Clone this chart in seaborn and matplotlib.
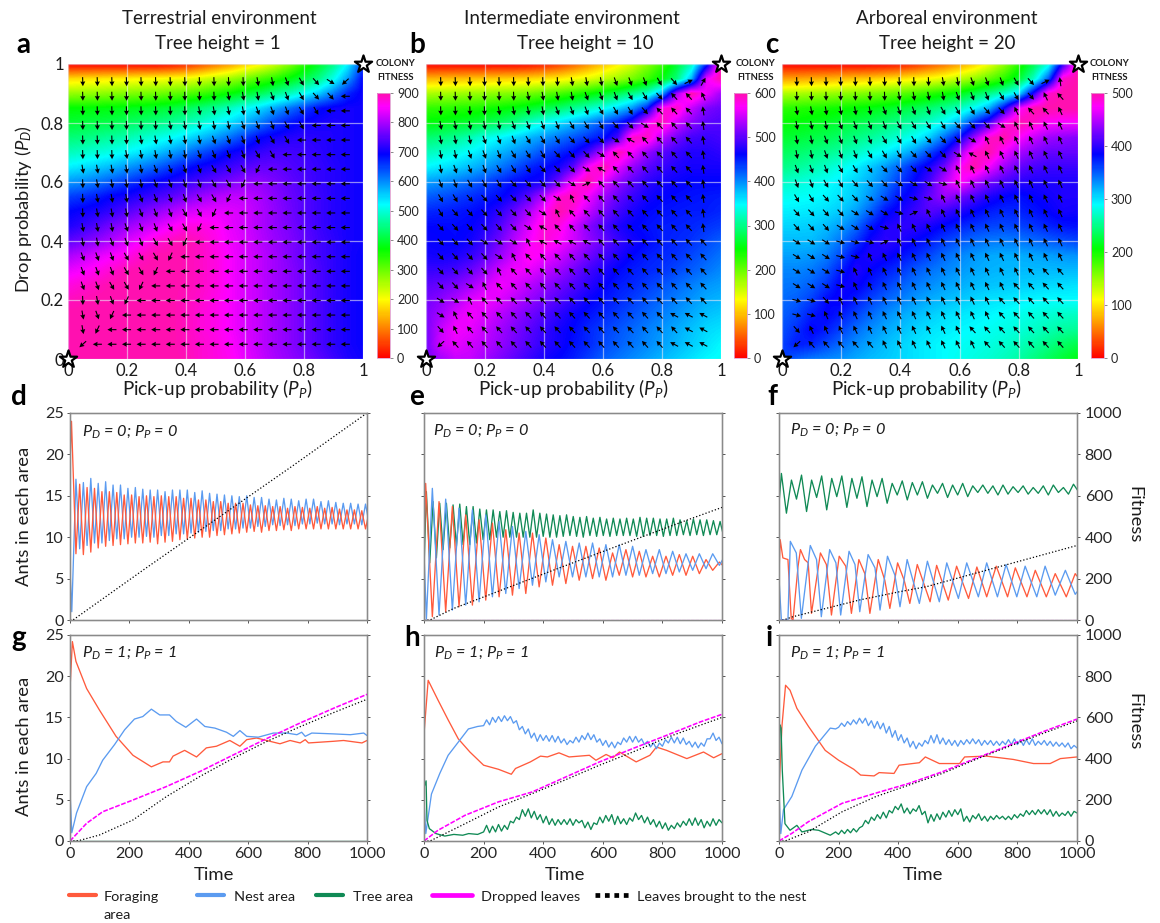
import matplotlib
matplotlib.use('Agg')
import numpy as np
import pandas as pd
import matplotlib.pyplot as plt
import seaborn as sns
from matplotlib.colors import LinearSegmentedColormap
from matplotlib.lines import Line2D

W, H = 1160, 923
sns.set_theme(style="white")
plt.rcParams['font.family'] = ['Lato', 'DejaVu Sans']
plt.rcParams['mathtext.fontset'] = 'custom'
plt.rcParams['mathtext.rm'] = 'Lato'
plt.rcParams['mathtext.it'] = 'Lato:italic'
plt.rcParams['mathtext.bf'] = 'Lato:bold'
plt.rcParams['text.color'] = '#1c1c1c'

# --- colony fitness, rows from P_D = 1 down to 0, columns P_P = 0..1 ---
fit_a = [
    [0,0,0,0,0,0,0,10,30,60,90,120,160,190,230,280,340,390,450,530,650],
    [170,175,180,185,190,195,200,205,210,225,245,265,290,320,345,375,410,450,510,590,690],
    [270,272,275,280,285,290,295,305,315,330,350,370,395,420,450,480,515,555,610,670,700],
    [370,372,375,378,382,388,395,405,420,440,460,485,515,545,580,615,650,685,700,705,700],
    [400,405,410,415,425,435,445,460,475,495,520,545,575,610,650,680,700,705,710,705,700],
    [440,445,455,465,475,490,505,520,540,565,590,620,655,690,705,715,720,715,710,705,700],
    [480,490,500,510,525,540,560,585,610,640,665,695,710,725,735,735,730,720,710,705,700],
    [530,540,555,570,590,610,630,655,680,700,715,730,745,755,755,745,735,725,715,705,700],
    [590,600,615,635,655,675,695,710,725,740,755,770,785,785,770,755,740,725,715,705,700],
    [650,660,675,695,705,720,735,750,770,790,805,815,815,800,780,760,745,730,715,705,700],
    [690,700,710,725,745,765,785,805,825,835,840,835,825,805,785,765,745,730,715,705,700],
    [710,725,745,770,790,810,830,850,870,870,860,840,825,805,785,770,750,730,715,705,700],
    [750,765,785,805,830,850,875,890,900,885,865,845,830,810,790,775,755,735,720,705,700],
    [800,815,835,850,865,885,900,900,895,885,870,850,830,815,795,775,755,735,720,705,695],
    [840,850,865,880,895,900,900,900,895,885,870,850,830,815,795,780,760,740,720,705,695],
    [870,880,890,900,900,900,900,900,895,885,870,850,830,815,795,780,760,740,720,705,695],
    [890,895,900,900,900,900,900,900,890,880,865,850,830,815,795,780,760,740,720,705,695],
    [900,900,900,900,900,900,900,900,890,875,865,850,830,815,795,780,760,740,720,705,695],
    [900,900,900,900,900,900,900,900,890,875,865,850,830,815,795,780,760,740,720,705,695],
    [900,900,900,900,900,900,900,900,890,880,870,855,835,815,795,780,760,740,720,705,695],
    [900,900,900,900,900,900,900,900,895,880,870,860,840,820,800,785,770,750,730,710,700],
]
fit_b = [
    [0,0,0,0,0,0,0,5,15,30,50,75,100,125,150,185,220,265,320,440,600],
    [95,97,100,102,105,108,110,113,118,125,135,145,160,175,195,220,250,295,380,560,600],
    [170,172,175,178,182,186,190,196,205,215,228,242,258,278,300,325,385,530,600,565,530],
    [225,227,230,233,238,244,252,262,274,288,305,322,340,365,395,450,580,590,545,515,505],
    [250,254,260,266,274,286,300,325,345,362,380,400,425,450,490,570,595,550,520,500,495],
    [290,296,305,318,338,350,365,380,395,410,425,440,455,490,590,590,540,510,490,485,490],
    [320,328,338,350,365,380,395,410,430,445,460,490,540,600,565,525,500,485,475,475,480],
    [350,358,367,378,392,408,425,445,458,470,500,570,600,560,525,500,485,475,470,470,470],
    [390,397,406,417,430,444,458,465,470,510,570,600,560,525,500,480,470,465,460,460,460],
    [420,426,433,441,450,458,475,500,540,585,595,565,530,505,485,470,462,458,455,452,450],
    [445,448,452,456,464,480,505,535,570,600,580,545,515,490,472,460,455,452,450,450,445],
    [460,460,458,462,474,495,525,555,585,580,550,520,495,475,462,455,450,448,445,440,435],
    [465,462,460,468,485,510,540,565,585,570,550,525,505,485,470,460,450,445,440,430,420],
    [470,468,472,482,500,525,550,575,565,550,530,510,490,475,460,450,445,440,430,420,410],
    [485,485,490,505,525,550,565,560,545,530,510,490,475,460,450,445,440,430,420,410,400],
    [500,505,515,530,550,565,555,540,525,510,495,480,465,450,445,435,425,415,405,395,390],
    [510,520,535,555,565,555,540,525,510,495,480,465,455,445,435,425,415,405,395,385,380],
    [515,530,555,565,555,540,525,510,495,480,465,455,445,435,425,415,405,395,385,375,370],
    [510,545,565,560,545,530,515,500,485,470,460,445,435,425,415,405,395,385,375,365,360],
    [510,550,560,550,540,525,510,495,480,470,455,445,430,420,410,400,390,380,370,360,350],
    [510,530,545,545,530,515,500,485,470,460,450,435,420,410,400,390,380,370,360,350,345],
]
fit_c = [
    [0,0,0,0,0,0,0,3,10,20,35,50,70,90,115,150,190,230,280,400,500],
    [70,72,75,78,82,86,90,95,100,106,113,122,135,150,170,190,220,270,350,490,500],
    [140,142,145,148,152,156,160,165,172,180,190,200,212,230,250,270,300,395,490,500,500],
    [190,192,195,198,202,206,210,216,224,232,242,254,270,290,320,385,470,500,500,500,500],
    [205,208,212,216,222,228,235,243,252,262,274,292,320,370,410,480,500,490,475,470,470],
    [220,224,228,233,240,248,257,267,278,290,310,345,385,440,490,500,475,455,440,435,430],
    [235,240,246,252,260,270,282,294,310,330,360,390,440,490,500,470,445,430,420,420,420],
    [250,256,263,272,283,295,310,328,350,375,395,425,475,500,470,440,420,410,405,405,405],
    [270,276,282,288,296,306,320,340,365,385,410,450,480,450,425,410,400,395,395,395,395],
    [285,287,289,293,300,310,330,355,380,395,420,440,425,410,395,385,380,385,390,395,395],
    [295,296,298,302,310,325,350,380,392,405,415,405,395,385,375,370,372,378,385,392,390],
    [305,306,308,314,326,345,375,395,400,400,392,382,372,365,360,358,360,365,372,378,380],
    [315,315,315,325,342,365,390,400,395,385,375,362,352,345,340,338,340,345,350,355,360],
    [325,325,328,338,358,385,395,390,380,370,358,345,335,328,322,320,320,322,325,328,330],
    [335,335,340,352,375,395,385,375,365,352,342,335,328,322,318,316,315,315,315,315,315],
    [340,342,350,365,388,388,375,362,350,340,332,325,320,315,312,310,308,306,304,302,300],
    [345,350,362,382,388,375,360,348,338,328,320,315,310,305,300,298,295,292,290,290,290],
    [350,358,375,385,375,360,345,332,322,315,308,302,298,295,292,288,284,280,276,272,270],
    [355,368,385,375,360,345,332,322,314,306,300,296,292,290,286,282,278,272,265,258,255],
    [360,375,372,358,345,332,322,314,306,300,295,290,288,284,280,275,268,260,250,238,230],
    [365,350,340,335,330,322,315,310,305,300,295,290,285,280,275,268,260,248,235,222,210],
]
cbar_ticks_a = [0, 100, 200, 300, 400, 500, 600, 700, 800, 900]
cbar_ticks_b = [0, 100, 200, 300, 400, 500, 600]
cbar_ticks_c = [0, 100, 200, 300, 400, 500]

# --- arrow directions read row by row, P_D = .95 (top) to .05 ---
arrow_codes = dict(d=-88, e=-80, f=-70, g=-60, h=-48, i=-32, j=-15, c=25, b=60,
                   s=98, r=115, q=132, t=152, l=180, o=222, n=245)
arrows_a = ["ddddddddddddeefghio", "ddddddddddeeeffghhl", "ddddddddeeeefffggll",
            "ddddddeeeeefffgglll", "ddddeeeeeffffggllll", "dddeeeeeffffgglllll",
            "eeeeeffffgggnllllll", "deeeeffffggnlllllll", "deeeffffggnllllllll",
            "deeefffggnlllllllll", "eeefffggnllllllllll", "eefffggnlllllllllll",
            "fffgggnllllllllllll", "fffggnlllllllllllll", "ffggnllllllllllllll",
            "defnlllllllllllllll", "efnllllllllllllllll", "enlllllllllllllllll",
            "ollllllllllllllllll"]
arrows_b = ["dddddddddeeefffghcb", "ddddddeeeefffgghqqr", "ddddeeeefffggghqqqs",
            "eeeeeffffggghhiqqqs", "eeefffggghhhitqqqqs", "eefffggghhhiqqqqqqs",
            "efffggghhhitqqqqqqs", "ffggghhhhicqqqqqqqs", "gghhhhhhirqqqqqqqqs",
            "ghhhhhhirqqqqqqqqqs", "hhhhhhitqqqqqqqqqqs", "hhhiiirttttqqqqqqqq",
            "hhhhirqqqqqqqqqqqqq", "hhhhrqqqqqqqqqqqqqq", "hhirqqqqqqqqqqqqqqq",
            "iirqqqqqqqqqqqqqqqq", "irqqqqqqqqqqqqqqttt", "hrqqqqqqqqqqqqqqqtt",
            "oqqqqqqqqqqqqqqqttt"]
arrows_c = ["ddddddddddeefffghcs", "dddddddeeeefffgghrq", "eeeeeeffffggghhrqqr",
            "eeeffffgggghhhirrrr", "eeffffggghhhirrrrrr", "eefffggghhhitrrrrrr",
            "fffggghhhiirrrrrrrr", "ffgghhhiiijrrrrrrrr", "gghhhiiijjrrrrrrrrr",
            "hhhhiiijcrrrrrrrrrr", "hhhiiijrrrrrrrrrrrr", "iiijjjcrrrrrrrrrrrr",
            "iiijjrrrrrrrrrrrrrr", "iiijrrrrrrrrrrrrqqq", "iiijrrrrrrrrrrrqqqq",
            "jjhrrrrrrrrrrrqqqqq", "jjrrrrrrrrrrrrqqqqq", "hrrrrrrrrrrrqqqqqqq",
            "oqqqqqrrrrrrrqqqqqq"]

# --- panel d ---
d_blue_pk = [17,16.6,17.1,16.5,16.7,16.3,16.3,15.9,16,15.8,15.7,15.7,15.5,15.7,15.7,15.7,15.4,15.6,15.3,15.2,
             15.1,15,14.9,15,14.8,14.8,14.6,14.5,14.7,14.6,14.4,14.6,14.6,14.3,14.4,14.2,14.1,14.1,14,14]
d_blue_tr = [8.6,9,9.3,9.3,9.6,9.8,9.8,10,10,10.1,10,10.2,10.2,10.4,10.4,10.5,10.6,10.7,10.8,10.8,
             11,11,11.1,11.1,11.3,11.3,11.5,11.4,11.5,11.4,11.6,11.6,11.7,11.6,11.6,11.5,11.6,11.6,11.5,11.6]
d_red_pk = [16.4,16,15.9,15.5,15.5,15.4,15.1,15.1,14.9,15,14.9,15,14.9,14.9,14.7,14.7,14.5,14.5,14.3,14.3,
            14.1,14.1,14.1,13.9,13.8,13.8,13.7,13.7,13.5,13.7,13.6,13.5,13.7,13.5,13.6,13.4,13.3,13.3,13.2,13.1]
d_red_tr = [8,7.9,8.2,8.7,8.9,9,9.1,9.2,9.3,9.3,9.4,9.2,9.4,9.5,9.7,9.8,9.9,10,10,10.2,
            10.3,10.4,10.5,10.6,10.7,10.6,10.8,10.8,10.9,10.8,11,11,11,11,11,11,11,11,11,11]
d_leaves_t = [0, 10, 250, 500, 750, 1000]
d_leaves = [0, 0, 245, 495, 745, 1000]

# --- panel e ---
e_green_pk = [15.5,14.3,14.1,14.1,13.9,14,13.7,13.7,13.4,13.3,13.3,13.1,13.2,13,12.9,12.9,13.3,12.9,12.8,12.7,12.6,12.7,12.5,
              12.4,12.5,12.3,12.4,12.2,12.3,12.2,12.3,12.2,12.4,12.3,12.3,12.2,12.2,12.3,12.1,12,12.2,12.1,12.1,12,11.9]
e_green_tr = [6.9,7.5,8.5,8.7,8.9,9.1,9.1,9.3,9.7,9.7,10,10,10,10,10,10,10,10.1,10,10,10.1,10.2,10.1,
              10,10.2,10.1,10.2,10.1,10.2,10.2,10.2,10.1,10.1,10.2,10.2,10.1,10.2,10.2,10.3,10.2,10.3,10.2,10.3,10.3,10.2]
e_red_pk = [16.5,14.3,13.7,12.7,12.1,11.7,10.9,10.5,10.5,9.9,9.1,8.9,8.9,8.7,8.1,8.5,8.3,7.7,7.7,7.9,7.7,7.3,7]
e_red_tr = [.4,1,1.6,1.8,2.4,2.8,3,3.2,4,4.2,4.4,4.8,5,4.8,5.4,5.2,5.2,5.2,5.4,5.4,5.6,6,6.2]
e_blue_pk = [15.9,14.6,13.5,13.3,12.7,11.9,11.3,10.7,10.3,9.7,9.5,9.3,9.3,9.1,9.1,8.9,8.5,8.5,8.3,8,8,8,8]
e_blue_tr = [.6,1.2,1.8,2.2,2.8,3.2,3.8,4.2,4.6,5.2,5.2,5.2,5.2,5.2,5.4,5.4,5.6,5.6,5.8,6,6.2,6.6,6.6]
e_leaves_t = [0, 20, 100, 420, 645, 870, 1000]
e_leaves = [0, 0, 56, 233, 355, 476, 544]

# --- panel f ---
f_green_pk = [17.7,16.9,17.5,16.9,17.4,17.1,17.4,17.1,17.3,16.9,17.1,16.5,16.8,16.6,16.7,
              16.3,16.5,16.3,16.5,16.2,16.3,16.2,16.3,16.1,16.2,16,16.2,16.3,16,16.4]
f_green_tr = [12.9,14.6,13.1,14.8,13.3,14.9,13.6,14.7,13.7,14.9,14.1,15.1,14.5,15.1,14.7,
              15.3,14.8,15.1,14.9,15.4,15.3,15.1,15.2,15.4,15.2,15.3,15.1,15.4,15.2,15.5]
f_red_t = [0,4,13,30,41,47,64,72,86,98,109,139,159,176,202,224,243,268,288,305,333,355,372,398,420,439,
           464,507,529,568,596,636,664,697,729,767,793,832,860,897,927,964,994,1000]
f_red = [5.6,9.7,7.5,7.3,0.2,0,6.5,8.5,7.3,6.9,.8,8.1,6.7,.6,7.7,6.5,.8,7.3,5.6,.8,7.3,4.8,1.4,6.9,4.8,2,
         6.7,2.2,6.6,2.4,6.5,2.6,6.4,2.8,6.5,2.8,6.3,2.8,6,2.8,5.6,2.8,5.6,5.3]
f_blue_t = [0,8,30,38,58,75,105,126,142,170,191,207,235,255,271,299,322,339,364,389,406,430,471,498,538,
            563,602,630,669,697,733,762,798,826,865,893,927,961,994,1000]
f_blue = [5,0,0,9.5,8.1,.2,9,7.3,.4,8.5,6.9,.6,8.3,6.7,1,7.9,6.3,1.2,7.7,5.4,1.6,7.3,2,7.1,2.2,
          6.9,2.6,6.9,2.8,6.9,2.8,6.7,2.8,6.5,2.8,6.5,3,6,3.1,3.4]
f_leaves_t = [0, 15, 47, 271, 406, 495, 720, 1000]
f_leaves = [0, 0, 16, 97, 137, 161, 250, 360]

# --- panel g ---
g_red_t = [0,8,20,56,99,155,212,274,313,335,347,386,426,459,493,538,572,595,628,662,707,741,775,792,803,887,921,983,1000]
g_red = [18.5,24.2,21.8,18.5,15.9,12.7,10.4,9,9.6,9.6,10.3,11,10.2,11.3,11.5,12.2,11.5,12.3,12.5,12.2,11.8,12.2,11.9,12.3,11.9,12.1,12.2,11.9,12.2]
g_blue_t = [0,6,22,56,88,110,150,184,217,245,274,302,335,358,390,426,454,488,527,550,572,595,634,685,730,764,780,792,814,887,944,989,1000]
g_blue = [6,1,3.4,6.6,8.2,9.8,11.7,13.5,14.8,15.1,16,15.3,15.3,14.5,13.8,14.8,13.9,13.7,13.2,12.7,13.4,12.7,12.6,13.1,13.1,12.9,13.2,12.7,13.1,13,12.9,13.1,12.8]
g_drop_t = [0,56,110,212,324,437,550,662,775,887,1000]
g_drop = [0,86,142,199,264,337,418,497,573,644,712]
g_leaves_t = [0,30,99,212,324,437,550,662,775,887,1000]
g_leaves = [0,2,29,102,215,313,402,483,555,623,688]
tree_zero_t = [0, 1000]
tree_zero = [0, 0]

# --- panel h ---
h_red_t = [0,14,47,81,115,154,200,250,293,307,357,391,414,453,487,555,577,611,634,656,712,758,780,814,882,938,972,1000]
h_red = [13,19.5,17.1,14.7,12.4,10.8,9.2,8.7,8.1,8.8,9.6,10.3,10.2,10.7,10.2,10.4,9.8,10.5,10.1,10.8,9.6,10.4,11.4,11,10,10.8,10.1,10.6]
h_blue_t0 = [0,6,25,53,81,115,149,180]
h_blue_v0 = [5,.9,5.7,8.2,10.4,12,13.6,13.9]
h_blue = [14.0,14.7,14.1,15.0,14.4,15.1,14.5,15.2,14.6,15.1,
          14.3,14.6,13.5,13.9,13.0,13.6,12.5,13.1,12.1,12.9,
          12.2,12.8,12.1,12.8,12.0,12.7,11.9,12.4,11.7,12.2,
          11.9,12.6,12.0,12.8,12.3,13.1,12.3,12.9,12.0,12.4,
          11.6,12.2,11.4,12.0,11.3,12.0,11.7,12.5,12.0,12.7,
          12.0,12.7,12.0,12.4,11.7,12.1,11.4,11.9,11.2,11.9,
          11.5,12.3,11.9,12.6,11.9,12.6,11.8,12.5,11.7,12.1,
          11.4,12.0,11.3,11.9,11.5,12.4,12.4,13.1,12.2,12.6,11.8]
h_green_t0 = [0,7,10,18,40,70,100,130,150,180]
h_green_v0 = [6.5,7.3,2.5,1.5,.9,.6,.8,.7,.9,.8]
h_green = [1.1,1.9,1.0,1.8,1.1,2.0,1.2,1.9,1.4,2.4,
           2.2,2.9,2.6,3.8,3.0,3.9,2.8,3.6,2.6,3.2,
           2.2,3.0,2.0,2.7,1.9,2.6,2.0,2.6,2.0,2.7,
           1.9,2.6,2.2,2.5,1.6,2.3,1.4,2.2,2.0,2.9,
           2.2,3.1,2.4,3.2,2.0,3.0,2.1,2.7,2.0,2.8,
           2.4,3.4,2.6,3.1,2.2,2.9,2.0,2.6,1.7,2.4,
           1.5,2.2,1.3,1.9,1.5,2.2,1.7,2.4,1.9,2.7,
           1.9,2.8,1.9,2.6,1.6,2.4,1.8,2.7,1.9,2.6,2.2]
h_drop_t = [0,47,138,250,363,476,589,701,814,927,1000]
h_drop = [0,52,125,190,238,311,384,449,513,578,615]
h_leaves_t = [0,20,47,138,250,363,476,589,701,814,927,1000]
h_leaves = [0,0,19,84,165,230,298,368,432,502,562,600]

# --- panel i ---
i_red_t = [0,10,22,37,60,99,155,200,251,274,319,336,386,403,471,491,538,606,623,696,786,854,910,944,1000]
i_red = [6,14,18.9,18.3,16.1,13.9,11,9.8,8.7,8,7.9,8.3,8.2,9.2,9.5,10.2,9.4,9.4,10.2,10.3,9.9,9.4,9.4,10,10.2]
i_blue_t0 = [0,6,15,43,77,122,172,190]
i_blue_v0 = [5.8,.9,3.8,5.4,8.6,11.5,13.7,13.6]
i_blue = [13.8,14.3,13.9,14.5,14.1,14.7,14.2,14.9,14.3,14.9,
          14.0,14.6,13.7,14.5,13.6,14.3,13.1,13.9,12.6,13.4,
          12.2,12.9,11.9,12.5,11.4,12.1,11.2,11.9,11.5,12.2,
          11.8,12.8,11.9,12.9,11.8,12.5,11.7,12.3,11.6,12.2,
          11.5,12.2,11.7,12.3,11.8,12.4,11.8,12.3,11.6,12.2,
          11.7,12.2,11.6,12.1,11.6,12.1,11.7,12.3,11.7,12.4,
          11.7,12.3,11.6,12.3,11.7,12.4,11.6,12.1,11.7,12.2,
          11.6,12.1,11.5,12.0,11.5,11.9,11.4,11.9,11.2,11.6,11.3]
i_green_t0 = [0,3,7,11,20,37,60,77,110,133,172,190]
i_green_v0 = [8.6,14.1,13.7,8.6,2.1,1.3,1.9,1.1,1.4,1.3,.7,1.1]
i_green = [0.8,1.3,0.9,1.4,1.0,1.5,1.1,1.6,1.8,2.5,
           2.1,2.9,2.5,3.2,2.7,3.5,2.8,3.7,3.4,4.2,
           3.8,4.5,3.4,4.0,3.3,3.9,3.6,4.3,3.2,3.6,
           2.2,3.2,2.4,3.3,2.6,3.5,2.9,3.7,3.0,3.8,
           3.2,3.9,2.4,3.0,2.3,3.1,2.7,3.3,2.5,3.0,
           2.4,3.0,2.6,3.1,2.7,3.0,2.6,3.0,2.6,3.2,
           2.8,3.3,3.0,3.7,3.2,3.7,3.2,3.8,3.3,3.8,
           3.2,3.8,3.0,3.6,3.0,3.4,3.1,3.6,3.0,3.6,3.4]
i_drop_t = [0,43,99,212,324,437,550,662,775,887,1000]
i_drop = [0,37,94,183,232,280,337,402,466,531,592]
i_leaves_t = [0,20,43,99,212,324,437,550,662,775,887,1000]
i_leaves = [0,0,13,45,142,215,272,329,397,461,523,583]

RED, BLUE, GREEN, PINK = '#FF5A3C', '#5B9BF0', '#108A55', '#FF00FF'
SPINE = '#8a8a8a'
DASH = (0, (3, 1))
rainbow = LinearSegmentedColormap.from_list('fitness', [
    (0, '#ff0000'), (.22, '#ffff00'), (.41, '#00ff00'), (.58, '#00ffff'),
    (.77, '#0000ff'), (.95, '#ff00ff'), (1, '#ff10b0')])

fig = plt.figure(figsize=(W / 100, H / 100), dpi=100)


def add_ax(l, t, r, b):
    return fig.add_axes([l / W, 1 - b / H, (r - l) / W, (b - t) / H])


def label(x, y, s, **kw):
    kw.setdefault('ha', 'center')
    kw.setdefault('va', 'center')
    fig.text(x / W, 1 - y / H, s, **kw)


def zigzag(first, second):
    return list(np.column_stack((first, second)).ravel())


def heat_panel(box, cbox, fit, ticks, arrows, show_y=True):
    ax = add_ax(*box)
    im = ax.imshow(np.array(fit, dtype=float), extent=(-.025, 1.025, -.025, 1.025),
                   cmap=rainbow, vmin=0, vmax=ticks[-1], aspect='auto',
                   interpolation='bilinear', interpolation_stage='data')
    ax.set_xlim(0, 1)
    ax.set_ylim(0, 1)
    ax.set_xticks([0, .2, .4, .6, .8, 1], ['0', '0.2', '0.4', '0.6', '0.8', '1'])
    ax.set_yticks([0, .2, .4, .6, .8, 1], ['0', '0.2', '0.4', '0.6', '0.8', '1'])
    ax.tick_params(length=0, labelsize=12, pad=3, labelcolor='#1c1c1c', labelleft=show_y)
    ax.grid(True, color='#e8e8f4', lw=.9, alpha=.6)
    ax.set_axisbelow(False)
    for s in ax.spines.values():
        s.set_visible(False)
    xs = np.linspace(.05, .94, 19)
    ys = np.linspace(.94, .05, 19)
    X, Y = np.meshgrid(xs, ys)
    ang = np.array([[arrow_codes[c] for c in row] for row in arrows], dtype=float)
    ax.quiver(X, Y, np.cos(np.radians(ang)), np.sin(np.radians(ang)), angles='uv',
              scale_units='inches', scale=11, units='inches', width=.011,
              headwidth=4.6, headlength=4.4, headaxislength=4, pivot='mid',
              color='black', zorder=3)
    ax.scatter([0, 1], [0, 1], marker='*', s=170, c='white', edgecolors='black',
               linewidths=1.6, clip_on=False, zorder=5)
    cax = add_ax(*cbox)
    cb = fig.colorbar(im, cax=cax, ticks=ticks)
    cb.outline.set_edgecolor('#e0a0d0')
    cb.outline.set_linewidth(.6)
    cb.ax.tick_params(length=2, width=.6, color='#777777', labelsize=9, pad=3)
    return ax


def line_panel(box, series, left_lab=False, right_lab=False, bottom_lab=False):
    """series: (t, values, colour, axis, linestyle, width)"""
    ax = add_ax(*box)
    ax2 = ax.twinx()
    for t, v, col, which, ls, lw in series:
        target = ax if which == 'ants' else ax2
        frame = pd.DataFrame({'t': t, 'v': v})
        sns.lineplot(data=frame, x='t', y='v', ax=target, color=col, linestyle=ls,
                     linewidth=lw, estimator=None, errorbar=None, sort=False)
    ax.set_xlim(0, 1000)
    ax.set_ylim(0, 25)
    ax2.set_ylim(0, 1000)
    ax.set_xlabel('')
    ax.set_ylabel('')
    ax2.set_ylabel('')
    ax.set_xticks(range(0, 1001, 200))
    ax.set_yticks(range(0, 26, 5))
    ax2.set_yticks(range(0, 1001, 200))
    ax.tick_params(axis='both', length=2.5, width=.7, color='#555555', bottom=True, left=True,
                   labelsize=11.6, pad=2, labelbottom=bottom_lab, labelleft=left_lab)
    ax2.tick_params(axis='y', length=2.5, width=.7, color='#555555', right=True,
                    labelsize=11.6, pad=3, labelright=right_lab)
    for a in (ax, ax2):
        for s in a.spines.values():
            s.set_color(SPINE)
            s.set_linewidth(.95)
    return ax


# heat maps
heat_panel((68, 64, 363, 359), (377, 93, 390, 358), fit_a, cbar_ticks_a, arrows_a)
heat_panel((426, 64, 721, 359), (734, 93, 747, 358), fit_b, cbar_ticks_b, arrows_b, show_y=False)
heat_panel((782, 64, 1078, 359), (1091, 93, 1104, 358), fit_c, cbar_ticks_c, arrows_c, show_y=False)

LW = .95
line_panel((70, 413, 367, 620), [
    ([0, 6] + [20 + 12.5 * i for i in range(80)], [6, 1] + zigzag(d_blue_pk, d_blue_tr), BLUE, 'ants', '-', LW),
    ([0, 5] + [20 + 12.5 * i for i in range(80)], [19, 24] + zigzag(d_red_tr, d_red_pk), RED, 'ants', '-', LW),
    (d_leaves_t, d_leaves, 'black', 'fit', ':', .9),
], left_lab=True)
line_panel((424, 413, 722, 620), [
    ([0] + [8 + 11.2 * i for i in range(90)], [6.25] + zigzag(e_green_pk, e_green_tr), GREEN, 'ants', '-', LW),
    ([0] + [5.6 + 22.4 * i for i in range(46)], [8] + zigzag(e_red_pk, e_red_tr), RED, 'ants', '-', LW),
    ([0, 8] + [28 + 22.4 * i for i in range(46)], [8, .1] + zigzag(e_blue_pk, e_blue_tr), BLUE, 'ants', '-', LW),
    (tree_zero_t, tree_zero, PINK, 'fit', DASH, .8),
    (e_leaves_t, e_leaves, 'black', 'fit', ':', .9),
])
line_panel((779, 413, 1077, 620), [
    ([0] + [8 + 16.9 * i for i in range(60)], [14.1] + zigzag(f_green_pk, f_green_tr), GREEN, 'ants', '-', LW),
    (f_red_t, f_red, RED, 'ants', '-', LW),
    (f_blue_t, f_blue, BLUE, 'ants', '-', LW),
    (tree_zero_t, tree_zero, PINK, 'fit', DASH, .8),
    (f_leaves_t, f_leaves, 'black', 'fit', ':', .9),
], right_lab=True)
line_panel((70, 635, 367, 841), [
    (tree_zero_t, tree_zero, GREEN, 'ants', '-', LW),
    (g_red_t, g_red, RED, 'ants', '-', LW),
    (g_blue_t, g_blue, BLUE, 'ants', '-', LW),
    (g_drop_t, g_drop, PINK, 'fit', DASH, 1.15),
    (g_leaves_t, g_leaves, 'black', 'fit', ':', .9),
], left_lab=True, bottom_lab=True)
line_panel((424, 635, 722, 841), [
    (h_red_t, h_red, RED, 'ants', '-', LW),
    (h_blue_t0 + [200 + 10 * i for i in range(len(h_blue))], h_blue_v0 + h_blue, BLUE, 'ants', '-', LW),
    (h_green_t0 + [200 + 10 * i for i in range(len(h_green))], h_green_v0 + h_green, GREEN, 'ants', '-', LW),
    (h_drop_t, h_drop, PINK, 'fit', DASH, 1.15),
    (h_leaves_t, h_leaves, 'black', 'fit', ':', .9),
], bottom_lab=True)
line_panel((779, 635, 1077, 841), [
    (i_red_t, i_red, RED, 'ants', '-', LW),
    (i_blue_t0 + [200 + 10 * i for i in range(len(i_blue))], i_blue_v0 + i_blue, BLUE, 'ants', '-', LW),
    (i_green_t0 + [200 + 10 * i for i in range(len(i_green))], i_green_v0 + i_green, GREEN, 'ants', '-', LW),
    (i_drop_t, i_drop, PINK, 'fit', DASH, 1.15),
    (i_leaves_t, i_leaves, 'black', 'fit', ':', .9),
], right_lab=True, bottom_lab=True)

# titles
for x1, x2, t1, t2 in [(219, 218, 'Terrestrial environment', 'Tree height = 1'),
                       (572, 585, 'Intermediate environment', 'Tree height = 10'),
                       (947, 947, 'Arboreal environment', 'Tree height = 20')]:
    label(x1, 18, t1, fontsize=13.5)
    label(x2, 43, t2, fontsize=13.5)

for x, y, s in [(23, 45, 'a'), (417, 45, 'b'), (772, 45, 'c'), (19, 397, 'd'), (417, 397, 'e'),
                (772, 397, 'f'), (19, 638, 'g'), (412, 638, 'h'), (769, 638, 'i')]:
    label(x, y, s, fontsize=20, fontweight='bold', color='black')

for x in (395, 755, 1109):
    label(x, 64, 'COLONY', fontsize=6.8, fontweight='bold')
    label(x, 77, 'FITNESS', fontsize=6.8, fontweight='bold')

for x in (217, 573, 926):
    label(x, 389, 'Pick-up probability ($P_P$)', fontsize=13.6)
for x in (214, 565, 923):
    label(x, 875, 'Time', fontsize=13.3)
label(24, 209, 'Drop probability ($P_D$)', fontsize=13.2, rotation=90)
label(24, 516, 'Ants in each area', fontsize=13.2, rotation=90)
label(24, 746, 'Ants in each area', fontsize=13.2, rotation=90)
label(1134, 515, 'Fitness', fontsize=13.2, rotation=270)
label(1134, 722, 'Fitness', fontsize=13.2, rotation=270)

for x, y, s in [(82, 432, '$P_D$ = 0; $P_P$ = 0'), (433, 431, '$P_D$ = 0; $P_P$ = 0'),
                (790, 430, '$P_D$ = 0; $P_P$ = 0'), (82, 653, '$P_D$ = 1; $P_P$ = 1'),
                (434, 653, '$P_D$ = 1; $P_P$ = 1'), (790, 653, '$P_D$ = 1; $P_P$ = 1')]:
    label(x, y, s, fontsize=11.7, style='italic', ha='left')

# legend, drawn by hand because it wraps like the original
for x0, x1, col, ls, lw in [(69, 96, RED, '-', 3), (197, 224, BLUE, '-', 3), (316, 343, GREEN, '-', 3),
                            (432, 472, PINK, '-', 3.4), (595, 630, 'black', (0, (1, 1)), 3.4)]:
    fig.add_artist(Line2D([x0 / W, x1 / W], [1 - 895 / H] * 2, color=col, linestyle=ls, linewidth=lw,
                          transform=fig.transFigure))
label(104, 897, 'Foraging', fontsize=10.4, ha='left')
label(104, 915, 'area', fontsize=10.4, ha='left')
label(234, 897, 'Nest area', fontsize=10.4, ha='left')
label(353, 897, 'Tree area', fontsize=10.4, ha='left')
label(481, 897, 'Dropped leaves', fontsize=10.4, ha='left')
label(637, 897, 'Leaves brought to the nest', fontsize=10.4, ha='left')

fig.savefig('out.png', dpi=100)
